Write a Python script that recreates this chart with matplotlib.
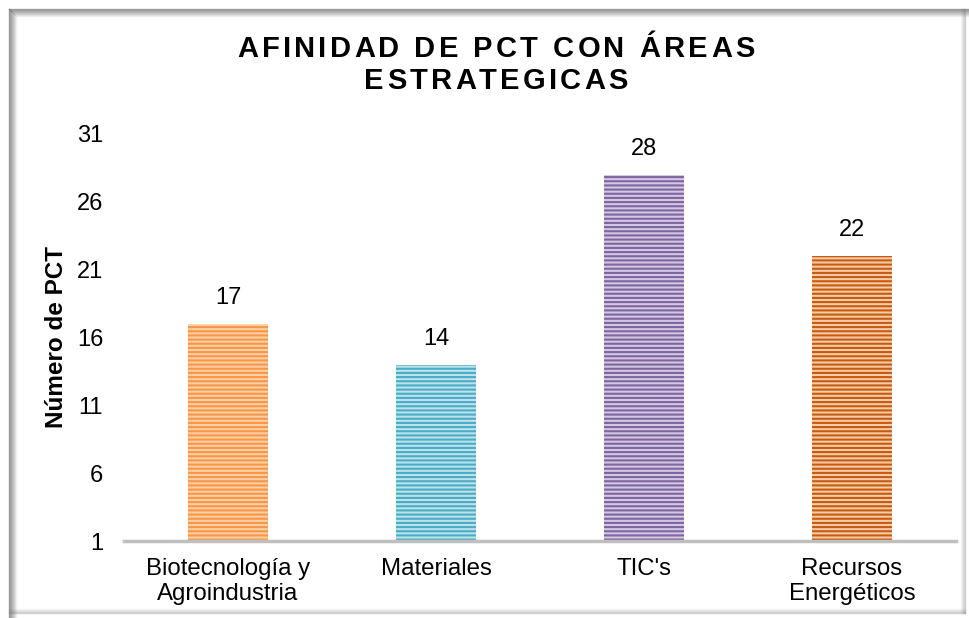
import matplotlib
matplotlib.use("Agg")
import matplotlib.pyplot as plt
from matplotlib.lines import Line2D

plt.rcParams['font.family'] = ['Liberation Sans', 'DejaVu Sans']
plt.rcParams['hatch.linewidth'] = 1.5

# datos
areas = ["Biotecnología y\nAgroindustria", "Materiales", "TIC's", "Recursos\nEnergéticos"]
valores = [17, 14, 28, 22]
y_ticks = [1, 6, 11, 16, 21, 26, 31]
titulo = ["AFINIDAD DE PCT CON ÁREAS", "ESTRATEGICAS"]
etiqueta_y = "Número de PCT"

colores_fondo = ["#FCCFA6", "#BCE2EC", "#D3C8E2", "#F8CBA6"]
colores_raya = ["#F79646", "#4BACC6", "#8064A2", "#C55A11"]

W, H = 970, 618
fig = plt.figure(figsize=(W / 100, H / 100), dpi=100)
ax = fig.add_axes([124 / W, 1 - 541 / H, (956 - 124) / W, (541 - 134) / H])

x = range(len(areas))
bars = ax.bar(x, [v - 1 for v in valores], bottom=1, width=0.385,
              color=colores_fondo, edgecolor=colores_raya, linewidth=0,
              hatch="----")
for b, v in zip(bars, valores):
    ax.text(b.get_x() + b.get_width() / 2, v + 1.9, str(v),
            ha="center", va="center", fontsize=17)

ax.set_xlim(-0.5, 3.5)
ax.set_ylim(1, 31)
ax.set_yticks(y_ticks)
ax.set_xticks(list(x))
ax.set_xticklabels(areas, fontsize=17.3, linespacing=1.2)
ax.tick_params(axis="y", length=0, labelsize=17, pad=15)
ax.tick_params(axis="x", length=0, pad=12)
for s in ["top", "right", "left"]:
    ax.spines[s].set_visible(False)
ax.spines["bottom"].set_color("#BFBFBF")
ax.spines["bottom"].set_linewidth(2.5)
ax.set_ylabel(etiqueta_y, fontsize=17.5, fontweight="bold", labelpad=6)


# titulo con espaciado entre letras
def texto_espaciado(s, cx, cy, size, track):
    r = fig.canvas.get_renderer()
    anchos = []
    for ch in s:
        t = fig.text(0, 0, ch if ch != " " else "n", fontsize=size, fontweight="bold")
        anchos.append(t.get_window_extent(r).width * (0.5 if ch == " " else 1))
        t.remove()
    total = sum(anchos) + track * (len(s) - 1)
    px = cx - total / 2
    for ch, w in zip(s, anchos):
        if ch != " ":
            fig.text(px / W, 1 - cy / H, ch, fontsize=size, fontweight="bold",
                     va="center", ha="left")
        px += w + track


texto_espaciado(titulo[0], 496, 49, 21, 3.2)
texto_espaciado(titulo[1], 496, 81, 21, 3.2)

# marco con sombra
for i in range(8):
    a = 0.55 * (1 - i / 8)
    c = (0.35, 0.35, 0.35, a)
    fig.add_artist(Line2D([(9 + i) / W, (9 + i) / W], [1 - (9 + i) / H, 0], color=c, lw=1))
    fig.add_artist(Line2D([(9 + i) / W, 1], [1 - (9 + i) / H, 1 - (9 + i) / H], color=c, lw=1))
for i in range(5):
    a = 0.3 * (1 - i / 5)
    c = (0.45, 0.45, 0.45, a)
    fig.add_artist(Line2D([(965 - i) / W, (965 - i) / W], [1 - 9 / H, 1 - 613 / H], color=c, lw=1))
    fig.add_artist(Line2D([9 / W, 965 / W], [1 - (613 - i) / H, 1 - (613 - i) / H], color=c, lw=1))

fig.savefig("out.png", dpi=100)
